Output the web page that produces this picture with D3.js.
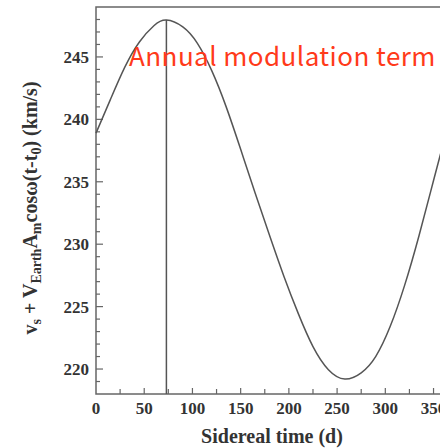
<!DOCTYPE html>
<html><head><meta charset="utf-8">
<script src="https://cdn.jsdelivr.net/npm/d3@7"></script>
<style>body{margin:0;background:#fff}svg{display:block}</style>
</head><body>
<script>
// Data
const days = [0, 15, 30, 45, 60, 73, 90, 105, 120, 135, 150, 165, 180, 195, 210, 225, 241, 258, 275, 290, 305, 320, 335, 350, 365];
const speed = [238.9, 241.6, 244.2, 246.2, 247.5, 247.95, 247.4, 246.1, 243.9, 241.0, 237.6, 234.1, 230.7, 227.4, 224.4, 221.8, 219.95, 219.2, 219.7, 221.0, 223.4, 226.7, 230.7, 235.1, 239.5];
const peakDay = 73;
const peakValue = 247.95;
const xTicks = [0, 50, 100, 150, 200, 250, 300, 350];
const yTicks = [220, 225, 230, 235, 240, 245];
const annotation = "Annual modulation term";
const xTitle = "Sidereal time (d)";

const W = 440, H = 448;
const svg = d3.select("body").append("svg").attr("width", W).attr("height", H);
const x = d3.scaleLinear().domain([0, 365]).range([96, 448]);
const y = d3.scaleLinear().domain([218, 249]).range([394, 7]);
const axisCol = "#666";
const serif = "'Liberation Serif','DejaVu Serif',serif";

// frame
svg.append("rect").attr("x", x(0)).attr("y", y(249)).attr("width", x(365) - x(0)).attr("height", y(218) - y(249))
  .attr("fill", "none").attr("stroke", axisCol).attr("stroke-width", 1.5);

// y ticks (inward)
const yMinor = d3.range(219, 249, 1);
svg.append("g").selectAll("line").data(yMinor).join("line")
  .attr("x1", x(0)).attr("x2", d => x(0) + (d % 5 === 0 ? 7 : 4))
  .attr("y1", d => y(d)).attr("y2", d => y(d))
  .attr("stroke", axisCol).attr("stroke-width", 1.2);
svg.append("g").selectAll("text").data(yTicks).join("text")
  .attr("x", 89).attr("y", d => y(d) + 6).attr("text-anchor", "end")
  .attr("font-family", serif).attr("font-weight", "bold").attr("font-size", 17).attr("fill", "#333")
  .text(d => d);

// x ticks (inward)
const xMinor = d3.range(25, 365, 25);
svg.append("g").selectAll("line").data(xMinor).join("line")
  .attr("x1", d => x(d)).attr("x2", d => x(d))
  .attr("y1", y(218)).attr("y2", d => y(218) - (d % 50 === 0 ? 6 : 5))
  .attr("stroke", axisCol).attr("stroke-width", 1.2);
svg.append("g").selectAll("text").data(xTicks).join("text")
  .attr("x", d => x(d)).attr("y", 414).attr("text-anchor", "middle")
  .attr("font-family", serif).attr("font-weight", "bold").attr("font-size", 17).attr("fill", "#333")
  .text(d => d);

// curve
const line = d3.line().x((d, i) => x(days[i])).y(d => y(d)).curve(d3.curveNatural);
svg.append("path").datum(speed).attr("d", line).attr("fill", "none").attr("stroke", "#555").attr("stroke-width", 1.5);

// vertical line at peak
svg.append("line").attr("x1", x(peakDay)).attr("x2", x(peakDay)).attr("y1", y(peakValue)).attr("y2", y(218))
  .attr("stroke", "#555").attr("stroke-width", 1.5);

// annotation
svg.append("text").attr("x", 129).attr("y", 66).attr("font-family", "'Noto Sans CJK JP','Noto Sans',sans-serif")
  .attr("font-size", 26).attr("letter-spacing", 0.45).attr("fill", "#ff3a1a").text(annotation);

// x title
svg.append("text").attr("x", 272).attr("y", 443).attr("text-anchor", "middle")
  .attr("font-family", serif).attr("font-weight", "bold").attr("font-size", 20).attr("fill", "#333").text(xTitle);

// y title
const yt = svg.append("text").attr("transform", "translate(37,208) rotate(-90)").attr("text-anchor", "middle")
  .attr("font-family", serif).attr("font-weight", "bold").attr("font-size", 20).attr("fill", "#333");
yt.append("tspan").text("v");
yt.append("tspan").attr("baseline-shift", "-25%").attr("font-size", 14).text("s");
yt.append("tspan").text(" + V");
yt.append("tspan").attr("baseline-shift", "-25%").attr("font-size", 14).text("Earth");
yt.append("tspan").text("A");
yt.append("tspan").attr("baseline-shift", "-25%").attr("font-size", 14).text("m");
yt.append("tspan").text("cos\u03c9(t-t");
yt.append("tspan").attr("baseline-shift", "-25%").attr("font-size", 14).text("0");
yt.append("tspan").text(") (km/s)");
</script>
</body></html>
